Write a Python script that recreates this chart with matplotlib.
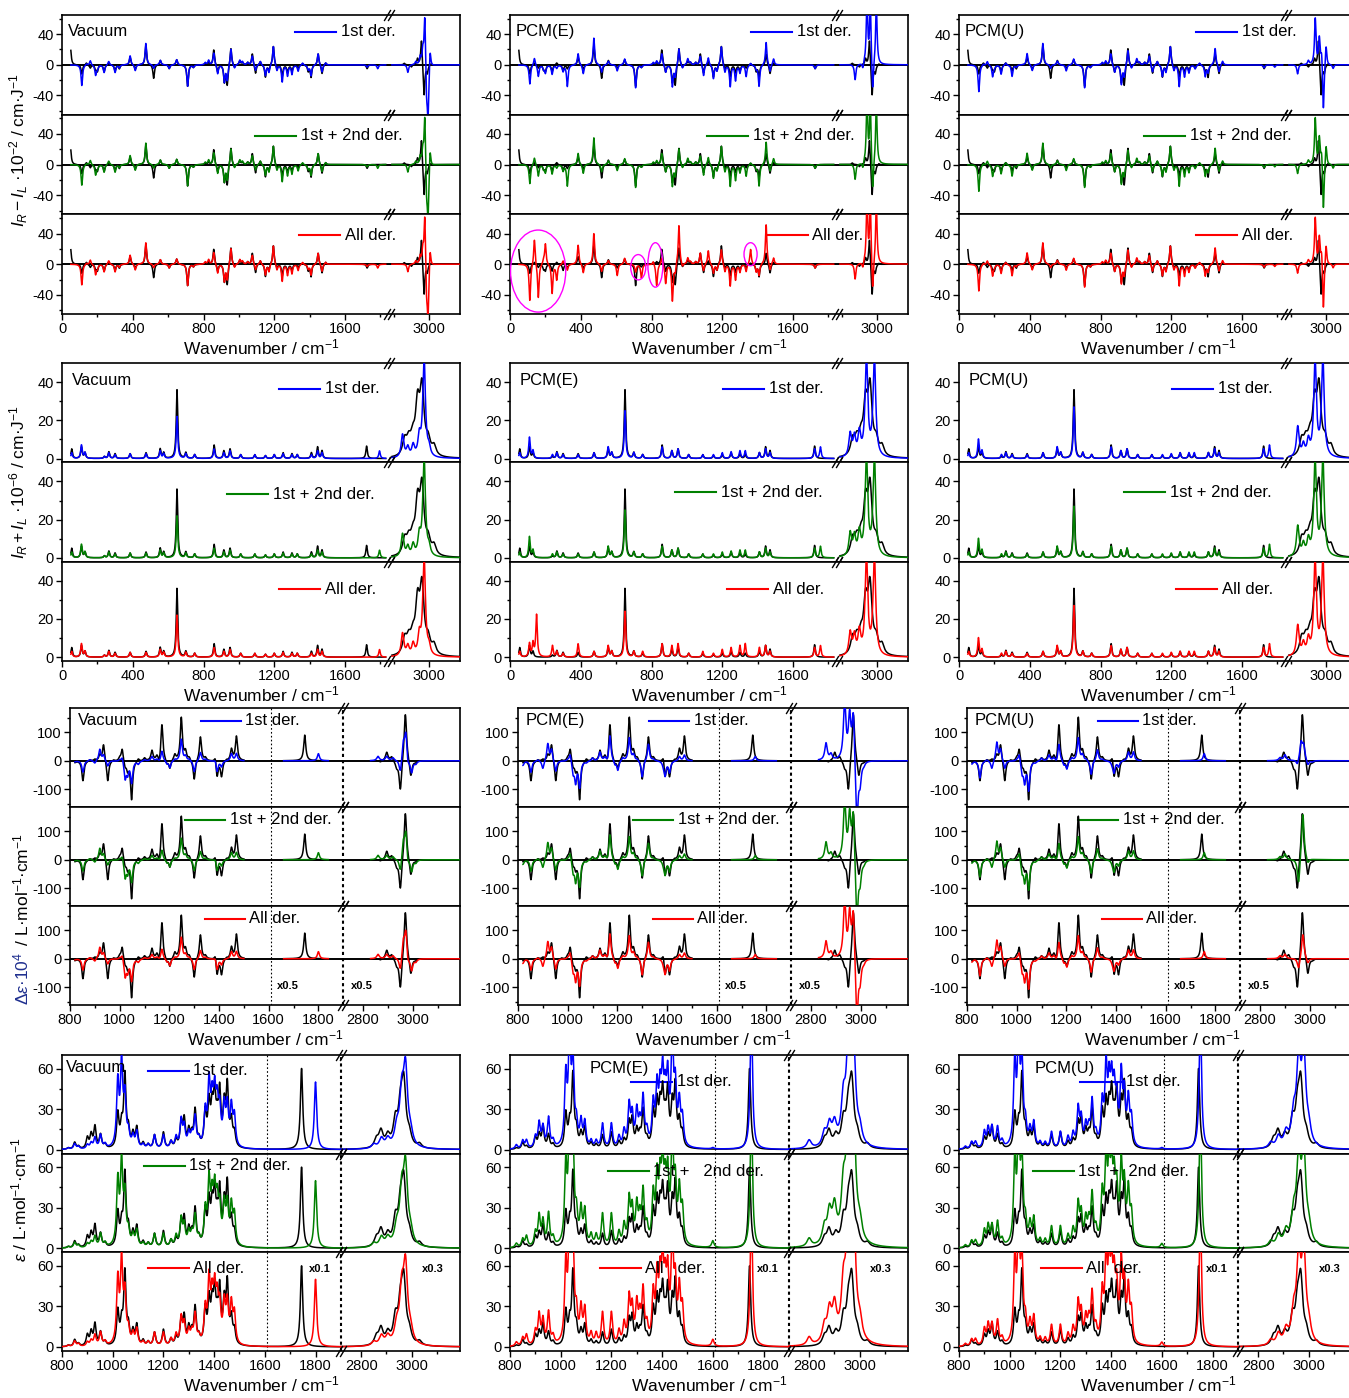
import numpy as np
import matplotlib
matplotlib.use("Agg")
import matplotlib.pyplot as plt
from matplotlib.patches import Ellipse

plt.rcParams["font.family"] = ["Liberation Sans", "DejaVu Sans"]
plt.rcParams["mathtext.fontset"] = "custom"
plt.rcParams["mathtext.rm"] = "Liberation Sans"
plt.rcParams["mathtext.it"] = "Liberation Sans:italic"
plt.rcParams["mathtext.bf"] = "Liberation Sans:bold"
plt.rcParams["axes.unicode_minus"] = False

# ---------------- data: band positions (cm-1) and band heights ----------------
# ROA  (I_R - I_L) x 10^-2
roa_pos = [48, 112, 138, 160, 190, 200, 238, 264, 300, 324,
           385, 414, 474, 518, 556, 606, 648, 710, 743, 810,
           829, 858, 880, 918, 934, 955, 975, 1005, 1020, 1050,
           1076, 1094, 1121, 1150, 1170, 1195, 1215, 1245, 1275, 1300,
           1335, 1360, 1392, 1408, 1448, 1470, 1490, 1725, 1785]
roa_ref = [22, -12, 3, -4, -6, -8, -9, 3, -8, -5,
           10, -6, 25, -18, 6, -5, 7, -28, -3, 2,
           3, 20, -10, -22, -26, 23, -4, 5, 3, 3,
           15, -12, 5, -16, -8, 25, -6, -15, -10, -8,
           -4, 2, -8, -16, 15, -12, 3, -5, 0]
roa_vac = [0, -27, 2, 6, -13, -5, -10, 5, -10, -4,
           12, -8, 28, -5, 6, -5, 7, -28, -3, 3,
           6, 16, -12, -22, -20, 22, -5, 6, 4, 3,
           12, -8, 5, -14, -10, 25, -8, -22, -14, -12,
           -8, 3, -6, -14, 15, -10, 3, -3, -5]
roa_pcme = [0, -25, 10, -15, -5, -10, -12, -4, -8, -28,
            15, -12, 35, -10, 5, -8, 8, -30, -3, 3,
            5, 15, -10, -28, -15, 22, -5, 8, 3, 3,
            12, -15, 10, -18, -8, 25, -10, -28, -20, -10,
            -15, 3, -5, -28, 30, -10, 8, -5, 0]
roa_pcme_all = [0, -48, 35, -45, 5, 27, -38, -20, 5, -8,
                25, -12, 40, -10, 5, -15, 8, -10, -18, 5,
                -28, 10, -25, -48, -10, 52, -5, 8, 3, 3,
                15, -10, 18, -12, -8, 20, -10, -28, -20, -10,
                -10, 20, -10, -15, 52, -10, 8, -5, 0]
roa_pcmu = [0, -35, 2, 5, -15, -3, -12, 3, -15, -3,
            15, -8, 28, -5, 5, -8, 8, -30, -3, 3,
            5, 15, -10, -25, -15, 20, -5, 8, 3, 3,
            12, -10, 5, -15, -10, 25, -8, -28, -15, -10,
            -5, 3, -15, -10, 22, -10, 5, -4, -3]
roa_ch_ref_pos = [2860, 2900, 2935, 2957, 2972, 2990, 3010]
roa_ch_ref_amp = [2, -3, 8, 35, -42, -10, 2]
roa_ch_vac_pos = [2880, 2925, 2950, 2965, 2976, 2986, 2994, 3006]
roa_ch_vac_amp = [-10, 4, 10, 18, 70, -40, -70, 25]
roa_ch_pcme_pos = [2876, 2920, 2943, 2962, 2975, 2996]
roa_ch_pcme_amp = [-20, -8, 80, 80, -45, 80]
roa_ch_pcmu_pos = [2839, 2900, 2939, 2962, 2975, 2985, 3000, 3040]
roa_ch_pcmu_amp = [-12, 5, 60, 35, 20, -65, 28, -5]

# Raman  (I_R + I_L) x 10^-6
ram_pos = [55, 110, 130, 150, 240, 265, 300, 385, 475, 555,
           575, 650, 700, 750, 860, 915, 950, 1010, 1090, 1150,
           1200, 1250, 1300, 1330, 1410, 1445, 1470, 1722, 1755, 1795]
ram_ref = [5, 6, 3, 0, 1, 3.5, 2.5, 2.5, 3, 5,
           3, 36, 3, 2, 7, 4, 5, 2, 2, 1.5,
           2, 3, 2.5, 2, 3, 6, 4, 6.5, 0, 0]
ram_vac = [3, 7, 3, 0, 1, 3, 2, 2.5, 2.5, 4,
           2.5, 22, 2.5, 2, 5, 3, 4, 2, 2, 1.5,
           2, 2.5, 2, 2, 2, 4, 3, 0, 0, 4]
ram_pcme = [3, 11, 4, 0, 2, 3, 2, 2, 3, 6,
            3, 25, 3, 2, 6, 4, 5, 2, 2, 2,
            3, 3.5, 4, 4, 3, 5, 3, 5, 6, 0]
ram_pcme_all = [3, 7, 7, 22, 6, 3, 2, 7, 3, 6,
                3, 24, 3, 3, 7, 6, 7, 2, 3, 2,
                4, 5, 6, 7, 5, 6, 3, 5, 6, 0]
ram_pcmu = [3, 10, 4, 0, 2, 3, 2, 2, 3, 6,
            3, 27, 3, 2, 6, 4, 5, 2, 2, 2,
            2.5, 3, 3, 3, 3, 5, 3, 5, 7, 0]
ram_ch_ref_pos = [2862, 2885, 2908, 2935, 2960, 2995, 3028]
ram_ch_ref_amp = [8, 7, 8, 25, 34, 7, 5]
ram_ch_vac_pos = [2850, 2880, 2910, 2945, 2972, 3000]
ram_ch_vac_amp = [12, 5, 6, 10, 52, 4]
ram_ch_pcme_pos = [2848, 2872, 2900, 2940, 2985]
ram_ch_pcme_amp = [12, 10, 12, 52, 52]
ram_ch_pcmu_pos = [2840, 2872, 2900, 2938, 2982]
ram_ch_pcmu_amp = [16, 6, 8, 50, 52]

# VCD  delta-epsilon x 10^4
vcd_pos = [820, 852, 880, 900, 920, 935, 952, 975, 1000, 1010,
           1022, 1032, 1048, 1075, 1100, 1130, 1150, 1160, 1170, 1190,
           1202, 1222, 1248, 1265, 1280, 1300, 1325, 1345, 1385, 1392,
           1410, 1430, 1450, 1470, 1745, 1755, 1800]
vcd_ref = [-5, -70, 5, 5, 20, 60, -75, 5, 10, 45,
           -20, -30, -135, 10, 10, 35, 15, -20, 130, -15,
           -30, 20, 150, 30, 10, -70, 85, 10, 25, -60,
           -55, 5, 40, 85, 90, 0, 0]
vcd_vac = [-3, -40, 5, -10, 40, 20, -20, 0, 5, 20,
           -60, -40, -75, -10, 5, 15, 5, -5, 35, -10,
           -25, 5, 75, 15, 5, -40, 30, 5, 10, -40,
           -20, 0, 25, 25, 0, 0, 25]
vcd_pcme = [-15, -40, 5, -30, 60, 40, -40, 0, 5, 30,
            -40, -70, -90, -5, 10, 30, 10, -10, 90, -15,
            -35, 10, 80, 20, 5, -60, 60, 5, -10, -50,
            -40, 0, 15, 20, 0, 15, 0]
vcd_pcmu = [-10, -60, 5, -30, 65, 40, -30, 0, 5, 30,
            -40, -70, -100, -5, 10, 20, 10, -10, 60, -15,
            -30, 10, 80, 20, 5, -50, 40, 5, -10, -40,
            -20, 0, 30, 30, 0, 25, 0]
vcd_ch_ref_pos = [2870, 2895, 2915, 2935, 2950, 2970, 2992, 3010]
vcd_ch_ref_amp = [-5, 30, 15, -20, -110, 175, -60, -5]
vcd_ch_vac_pos = [2860, 2895, 2920, 2950, 2962, 2972, 2980, 2995, 3012]
vcd_ch_vac_amp = [15, 15, 10, -50, 60, 100, -30, -45, -10]
vcd_ch_pcme_pos = [2800, 2860, 2880, 2935, 2955, 2970, 2984, 2997, 3012]
vcd_ch_pcme_amp = [20, 60, 20, 200, 150, 180, -240, -70, -10]
vcd_ch_pcmu_pos = [2880, 2900, 2950, 2965, 2975, 2992, 3010]
vcd_ch_pcmu_amp = [10, 20, -20, 60, 50, -20, -5]
vcd_ch_pcmu2_pos = [2880, 2900, 2955, 2972, 2992]
vcd_ch_pcmu2_amp = [10, 20, -95, 170, -20]
vcd_ch_pcmu3_amp = [10, 15, -40, 90, -20]

# IR  epsilon
ir_pos = [825, 850, 865, 900, 915, 930, 952, 970, 1020, 1035,
          1048, 1062, 1080, 1095, 1120, 1140, 1165, 1200, 1230, 1250,
          1270, 1282, 1300, 1312, 1325, 1340, 1365, 1380, 1392, 1402,
          1412, 1422, 1440, 1452, 1468, 1480, 1600, 1745, 1752, 1800]
ir_ref = [1, 5, 2, 8, 10, 16, 10, 3, 25, 15,
          53, 12, 10, 15, 4, 3, 10, 12, 5, 6,
          18, 20, 12, 8, 27, 5, 25, 30, 25, 35,
          15, 38, 28, 43, 18, 10, 0, 60, 0, 0]
ir_vac = [1, 4, 2, 3, 4, 8, 10, 3, 47, 60,
          35, 10, 8, 12, 3, 3, 10, 10, 5, 8,
          20, 15, 10, 8, 22, 5, 25, 45, 30, 35,
          28, 25, 28, 28, 28, 22, 0, 0, 0, 50]
ir_pcme = [3, 6, 6, 8, 18, 15, 22, 5, 50, 80,
           60, 15, 18, 18, 5, 5, 18, 18, 8, 12,
           30, 22, 25, 15, 35, 10, 30, 40, 35, 45,
           30, 45, 75, 40, 30, 20, 1, 0, 100, 0]
ir_pcme2 = [3, 6, 8, 10, 22, 18, 24, 6, 55, 90,
            70, 20, 25, 25, 8, 8, 24, 24, 10, 15,
            33, 25, 28, 18, 38, 12, 35, 45, 40, 50,
            35, 45, 75, 40, 38, 25, 5, 0, 100, 0]
ir_pcmu = [2, 5, 5, 12, 14, 15, 15, 5, 60, 80,
           60, 15, 12, 18, 4, 4, 12, 12, 8, 10,
           28, 20, 15, 12, 33, 8, 30, 55, 40, 40,
           35, 30, 50, 35, 33, 20, 1, 0, 100, 0]
ir_pcmu2 = [2, 5, 5, 12, 15, 15, 18, 5, 60, 85,
            60, 15, 15, 20, 5, 5, 15, 15, 8, 12,
            30, 22, 18, 15, 36, 10, 35, 58, 50, 45,
            40, 35, 55, 40, 38, 22, 3, 0, 100, 0]
ir_ch_ref_pos = [2860, 2878, 2905, 2935, 2955, 2968, 2990, 3030]
ir_ch_ref_amp = [6, 12, 8, 18, 25, 45, 8, 3]
ir_ch_vac_pos = [2850, 2880, 2905, 2940, 2960, 2975, 2995]
ir_ch_vac_amp = [3, 7, 6, 12, 35, 55, 8]
ir_ch_pcme_pos = [2800, 2860, 2880, 2900, 2935, 2955, 2975, 3000]
ir_ch_pcme_amp = [6, 10, 15, 15, 30, 70, 70, 10]
ir_ch_pcme2_amp = [6, 12, 22, 25, 35, 90, 90, 12]
ir_ch_pcmu_pos = [2850, 2880, 2910, 2940, 2960, 2980, 3000]
ir_ch_pcmu_amp = [4, 8, 10, 20, 60, 65, 10]

envs = ["Vacuum", "PCM(E)", "PCM(U)"]
der_labels = ["1st der.", "1st + 2nd der.", "All der."]
der_colors = ["#0000ff", "#008000", "#ff0000"]

# ---------------- helpers ----------------
def band_sum(x, pos, amp, hw_fp, hw_ch):
    pos = np.asarray(pos, float)
    amp = np.asarray(amp, float)
    hw = np.where(pos > 2500, hw_ch, hw_fp)
    return (amp[:, None] * hw[:, None] ** 2 /
            ((x[None, :] - pos[:, None]) ** 2 + hw[:, None] ** 2)).sum(axis=0)


def broken(a, b, c, d):
    xs = np.array([a - 1e5, a, b, c, d, d + 1e5])
    us = np.array([a - 1e5, a, b, b + 1e-3, b + (d - c), b + (d - c) + 1e5])
    return (lambda v: np.interp(v, xs, us)), (lambda v: np.interp(v, us, xs))


def plot_curve(ax, cfg, fp_pos, fp_amp, ch_pos, ch_amp, color, hw=None):
    pos = list(fp_pos) + list(ch_pos)
    amp = list(fp_amp) + list(ch_amp)
    hw = hw or cfg["hw"]
    for lo, hi in cfg["ranges"]:
        x = np.linspace(lo, hi, int((hi - lo) * 2) + 2)
        ax.plot(x, band_sum(x, pos, amp, hw[0], hw[1]),
                color=color, lw=1.1, zorder=3)


W, H = 1349, 1398
fig = plt.figure(figsize=(W / 100, H / 100), dpi=100)
fig.patch.set_facecolor("white")

rows = [
    dict(seg=(0, 1850, 2775, 3175), ylim=(-65, 65), yt=[-40, 0, 40], ym=[-60, -20, 20, 60],
         xt=[0, 400, 800, 1200, 1600, 3000], xm=[200, 600, 1000, 1400, 1800, 2800],
         ranges=[(50, 1830), (2790, 3175)], hw=(5, 5), ref_hw=(5, 5), zero=True,
         ref=(roa_pos, roa_ref, roa_ch_ref_pos, roa_ch_ref_amp),
         col=[[(roa_pos, roa_vac, roa_ch_vac_pos, roa_ch_vac_amp)] * 3,
              [(roa_pos, roa_pcme, roa_ch_pcme_pos, roa_ch_pcme_amp)] * 2 +
              [(roa_pos, roa_pcme_all, roa_ch_pcme_pos, roa_ch_pcme_amp)],
              [(roa_pos, roa_pcmu, roa_ch_pcmu_pos, roa_ch_pcmu_amp)] * 3],
         top=15, h=299, x0=[62, 510, 959], w=398),
    dict(seg=(0, 1850, 2775, 3175), ylim=(-2, 50), yt=[0, 20, 40], ym=[10, 30],
         xt=[0, 400, 800, 1200, 1600, 3000], xm=[200, 600, 1000, 1400, 1800, 2800],
         ranges=[(50, 1830), (2790, 3175)], hw=(5, 9), ref_hw=(5, 14), zero=False,
         ref=(ram_pos, ram_ref, ram_ch_ref_pos, ram_ch_ref_amp),
         col=[[(ram_pos, ram_vac, ram_ch_vac_pos, ram_ch_vac_amp)] * 3,
              [(ram_pos, ram_pcme, ram_ch_pcme_pos, ram_ch_pcme_amp)] * 2 +
              [(ram_pos, ram_pcme_all, ram_ch_pcme_pos, ram_ch_pcme_amp)],
              [(ram_pos, ram_pcmu, ram_ch_pcmu_pos, ram_ch_pcmu_amp)] * 3],
         top=363, h=298, x0=[62, 510, 959], w=398),
    dict(seg=(800, 1900, 2720, 3190), ylim=(-162, 185), yt=[-100, 0, 100], ym=[-150, -50, 50, 150],
         xt=[800, 1000, 1200, 1400, 1600, 1800, 2800, 3000],
         xm=[900, 1100, 1300, 1500, 1700, 2900, 3100],
         ranges=[(820, 1500), (1660, 1840), (2830, 3190)], hw=(5, 6), ref_hw=(5, 6), zero=True,
         ref=(vcd_pos, vcd_ref, vcd_ch_ref_pos, vcd_ch_ref_amp),
         col=[[(vcd_pos, vcd_vac, vcd_ch_vac_pos, vcd_ch_vac_amp)] * 3,
              [(vcd_pos, vcd_pcme, vcd_ch_pcme_pos, vcd_ch_pcme_amp)] * 3,
              [(vcd_pos, vcd_pcmu, vcd_ch_pcmu_pos, vcd_ch_pcmu_amp),
               (vcd_pos, vcd_pcmu, vcd_ch_pcmu2_pos, vcd_ch_pcmu2_amp),
               (vcd_pos, vcd_pcmu, vcd_ch_pcmu2_pos, vcd_ch_pcmu3_amp)]],
         top=708, h=297, x0=[70, 518, 967], w=390),
    dict(seg=(800, 1900, 2720, 3190), ylim=(-3, 70), yt=[0, 30, 60], ym=[15, 45],
         xt=[800, 1000, 1200, 1400, 1600, 1800, 2800, 3000],
         xm=[900, 1100, 1300, 1500, 1700, 2900, 3100],
         ranges=[(800, 1608), (1612, 1900), (2720, 3190)], hw=(5.5, 10), ref_hw=(5.5, 10),
         zero=False,
         ref=(ir_pos, ir_ref, ir_ch_ref_pos, ir_ch_ref_amp),
         col=[[(ir_pos, ir_vac, ir_ch_vac_pos, ir_ch_vac_amp)] * 3,
              [(ir_pos, ir_pcme, ir_ch_pcme_pos, ir_ch_pcme_amp)] +
              [(ir_pos, ir_pcme2, ir_ch_pcme_pos, ir_ch_pcme2_amp)] * 2,
              [(ir_pos, ir_pcmu, ir_ch_pcmu_pos, ir_ch_pcmu_amp)] +
              [(ir_pos, ir_pcmu2, ir_ch_pcmu_pos, ir_ch_pcmu_amp)] * 2],
         top=1055, h=296, x0=[62, 510, 959], w=398),
]

# legend text start (axes fraction) and y, per row / column / subpanel
leg_pos = [
    [[(0.70, 0.83), (0.60, 0.79), (0.71, 0.79)],
     [(0.72, 0.83), (0.61, 0.79), (0.76, 0.79)],
     [(0.71, 0.83), (0.58, 0.79), (0.71, 0.79)]],
    [[(0.66, 0.74), (0.53, 0.68), (0.66, 0.72)],
     [(0.65, 0.74), (0.53, 0.70), (0.66, 0.72)],
     [(0.65, 0.74), (0.53, 0.70), (0.66, 0.72)]],
    [[(0.45, 0.87), (0.41, 0.87), (0.46, 0.87)],
     [(0.45, 0.87), (0.41, 0.87), (0.46, 0.87)],
     [(0.45, 0.87), (0.40, 0.87), (0.46, 0.87)]],
    [[(0.33, 0.84), (0.32, 0.88), (0.33, 0.84)],
     [(0.42, 0.73), (0.36, 0.82), (0.34, 0.84)],
     [(0.42, 0.73), (0.30, 0.82), (0.32, 0.84)]],
]
row4_labels = [der_labels,
               ["1st der.", "1st +   2nd der.", "All   der."],
               ["1st der.", "1st  +  2nd der.", "All  der."]]
title_pos = [[(0.015, 0.83)] * 3, [(0.025, 0.82)] * 3, [(0.02, 0.87)] * 3,
             [(0.01, 0.87), (0.20, 0.86), (0.19, 0.86)]]

for r, cfg in enumerate(rows):
    a, b, c, d = cfg["seg"]
    fwd, inv = broken(a, b, c, d)
    sub_h = cfg["h"] / 3.0
    for ci in range(3):
        for k in range(3):
            top = cfg["top"] + k * sub_h
            ax = fig.add_axes([cfg["x0"][ci] / W, 1 - (top + sub_h) / H, cfg["w"] / W, sub_h / H])
            ax.set_xscale("function", functions=(fwd, inv))
            ax.set_xlim(a, d)
            ax.set_ylim(*cfg["ylim"])
            ax.set_xticks(cfg["xt"])
            ax.set_xticks(cfg["xm"], minor=True)
            ax.set_yticks(cfg["yt"])
            ax.set_yticks(cfg["ym"], minor=True)
            ax.set_xticklabels([str(t) for t in cfg["xt"]])
            ax.tick_params(which="both", direction="out", top=False, right=False,
                           labelsize=10.5, width=1, pad=2)
            ax.tick_params(which="major", length=4)
            ax.tick_params(which="minor", length=2.5)
            ax.tick_params(axis="x", labelbottom=(k == 2))
            for s in ax.spines.values():
                s.set_linewidth(1.2)
            if cfg["zero"]:
                ax.axhline(0, color="k", lw=1.4, zorder=1)
            if r >= 2:
                ax.axvline(1610, color="k", lw=0.8, ls=(0, (1.5, 2)), zorder=1)
                ax.axvline(b, color="k", lw=1.5, ls=(0, (1.5, 1.5)), zorder=1)
            # black reference and coloured derivative curves
            plot_curve(ax, cfg, *cfg["ref"], color="black", hw=cfg["ref_hw"])
            plot_curve(ax, cfg, *cfg["col"][ci][k], color=der_colors[k])
            # axis-break marks
            dx = 12 if r < 2 else 8
            ax.plot([b - dx, c + dx, b - dx, c + dx], [0, 0, 1, 1],
                    transform=ax.get_xaxis_transform(), ls="none",
                    marker=[(-0.6, -1), (0.6, 1)], ms=8, mew=1, color="k",
                    clip_on=False, zorder=5)
            # legend entry
            lx, ly = leg_pos[r][ci][k]
            label = row4_labels[ci][k] if r == 3 else der_labels[k]
            ax.plot([lx - 0.115, lx - 0.012], [ly, ly], transform=ax.transAxes,
                    color=der_colors[k], lw=1.5)
            ax.text(lx, ly, label, transform=ax.transAxes, ha="left", va="center",
                    fontsize=12)
            if k == 0:
                tx, ty = title_pos[r][ci]
                ax.text(tx, ty, envs[ci], transform=ax.transAxes, ha="left",
                        va="center", fontsize=12)
            if k == 2:
                ax.set_xlabel("Wavenumber / cm$^{-1}$", fontsize=12.5, labelpad=1)
                if r == 2:
                    ax.text(1635, -95, "x0.5", fontsize=8, fontweight="bold",
                            ha="left", va="center")
                    ax.text(2750, -95, "x0.5", fontsize=8, fontweight="bold",
                            ha="left", va="center")
                if r == 3:
                    ax.text(1775, 58, "x0.1", fontsize=8, fontweight="bold",
                            ha="left", va="center")
                    ax.text(3040, 58, "x0.3", fontsize=8, fontweight="bold",
                            ha="left", va="center")
                if r == 0 and ci == 1:
                    for (ex, ey, ew, eh) in [(159, -9, 312, 107), (725, -4, 85, 33),
                                             (822, -1, 85, 58), (1360, 13, 74, 30)]:
                        ax.add_patch(Ellipse((ex, ey), ew, eh, fill=False,
                                             edgecolor="#ff00ff", lw=1, zorder=6))

# y-axis labels (left column only)
ylx = 19 / W
fig.text(ylx, 1 - 150 / H, r"$I_R - I_L$ ·10$^{-2}$ / cm·J$^{-1}$",
         rotation=90, ha="center", va="center", fontsize=12.5)
fig.text(ylx, 1 - 482 / H, r"$I_R + I_L$ ·10$^{-6}$ / cm·J$^{-1}$",
         rotation=90, ha="center", va="center", fontsize=12.5)
fig.text(ylx + 2 / W, 1 - 952 / H, r"$\Delta\varepsilon$·10$^4$", rotation=90,
         rotation_mode="anchor", ha="right", va="center", fontsize=12.5, color="#1f2f8f")
fig.text(ylx + 2 / W, 1 - 950 / H, r" / L·mol$^{-1}$·cm$^{-1}$", rotation=90,
         rotation_mode="anchor", ha="left", va="center", fontsize=12.5)
fig.text(ylx, 1 - 1200 / H, r"$\varepsilon$ / L·mol$^{-1}$·cm$^{-1}$",
         rotation=90, ha="center", va="center", fontsize=12.5)

fig.savefig("out.png", dpi=100)
